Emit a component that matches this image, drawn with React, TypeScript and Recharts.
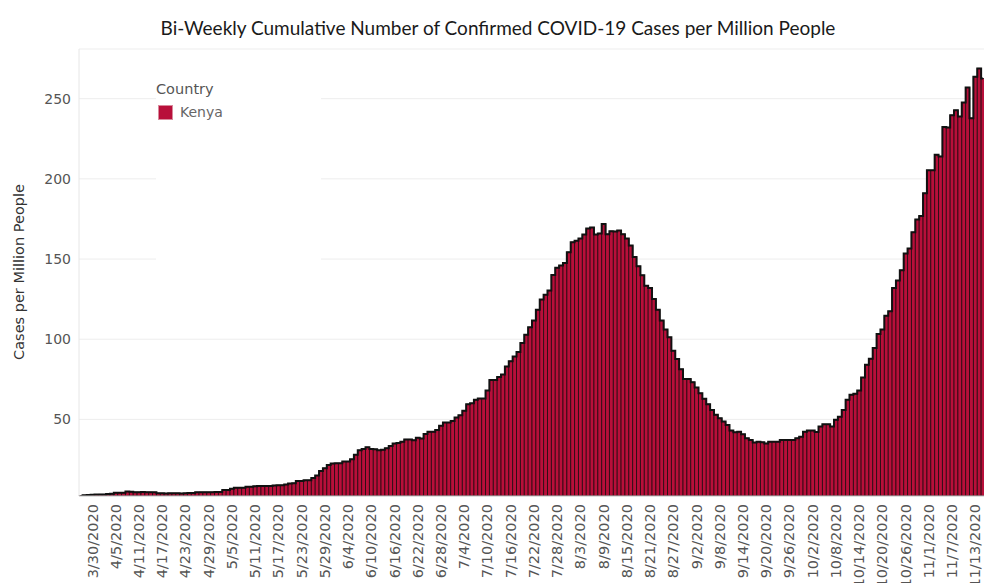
import {
  Bar,
  CartesianGrid,
  ComposedChart,
  Line,
  XAxis,
  YAxis,
} from "recharts";

// daily values, starting 3/27/2020
const casesPerMillion = [
  2.4, 2.6, 2.8, 3.0, 3.1, 3.2, 3.2, 3.4, 3.6, 4.2,
  4.2, 4.2, 5.0, 4.8, 4.6, 4.6, 4.7, 4.6, 4.6, 4.5,
  3.9, 3.9, 3.8, 3.9, 3.9, 3.9, 3.8, 3.9, 4.0, 4.0,
  4.5, 4.6, 4.6, 4.6, 4.6, 4.7, 4.7, 6.0, 6.0, 6.8,
  7.4, 7.4, 7.4, 7.9, 8.0, 8.3, 8.4, 8.4, 8.4, 8.5,
  8.8, 8.9, 8.9, 9.4, 10.0, 10.2,
  11.6, 11.6, 12.0, 12.0, 13.5, 15.0, 17.8, 19.5, 21.6, 22.4,
  22.6, 22.6, 23.7, 23.7, 25.1, 28.0, 30.7, 31.5, 32.6, 31.5,
  31.3, 30.7, 31.0, 32.0, 33.4, 34.9, 35.2, 36.0, 37.5, 37.5,
  37.0, 38.5, 38.0, 40.8, 42.2, 42.2, 43.4, 46.0, 48.0, 48.0,
  49.0, 51.1, 52.5, 55.3, 59.4, 60.0, 62.2, 63.0, 63.0, 68.0,
  74.5, 74.5, 76.4, 78.0, 83.0, 86.3, 89.2, 92.0, 97.6, 102.8,
  107.4, 111.6, 118.4, 124.7, 127.8, 130.3, 140.1, 144.5, 146.0, 147.6,
  154.3, 160.5, 161.4, 162.8, 165.3, 169.0, 169.7, 165.3, 166.0, 171.8,
  165.5, 167.4, 167.2, 167.8, 165.5, 162.8, 158.4, 151.3, 145.5,
  139.9, 133.4, 132.0, 125.1, 118.4, 111.6, 106.0, 101.2, 92.8, 87.6,
  81.3, 75.1, 75.1, 73.2, 69.9, 66.3, 62.8, 59.5, 55.9, 52.8,
  50.7, 48.6, 46.5, 43.0, 41.9, 42.3, 40.7, 38.2, 37.1, 35.5,
  36.1, 35.7, 35.0, 36.1, 36.1, 36.1, 37.1, 37.1, 37.1, 37.1,
  38.2, 39.2, 42.3, 43.0, 43.0, 42.1, 45.5, 46.9, 46.9, 45.5,
  49.7, 51.7, 55.9, 62.2, 65.3, 65.9, 68.0, 76.1, 84.0, 87.8,
  94.5, 103.2, 106.0, 114.7, 117.4, 132.0, 136.6, 143.0, 153.4, 156.6,
  166.7, 174.7, 176.8, 191.0, 205.3, 205.3, 215.0, 214.0, 232.4, 232.0,
  239.7, 242.8, 238.9, 247.6, 257.0, 237.8, 263.7, 268.9, 262.6,
];

const tickDates = [
  "3/30/2020", "4/5/2020", "4/11/2020", "4/17/2020", "4/23/2020",
  "4/29/2020", "5/5/2020", "5/11/2020", "5/17/2020", "5/23/2020",
  "5/29/2020", "6/4/2020", "6/10/2020", "6/16/2020", "6/22/2020",
  "6/28/2020", "7/4/2020", "7/10/2020", "7/16/2020", "7/22/2020",
  "7/28/2020", "8/3/2020", "8/9/2020", "8/15/2020", "8/21/2020",
  "8/27/2020", "9/2/2020", "9/8/2020", "9/14/2020", "9/20/2020",
  "9/26/2020", "10/2/2020", "10/8/2020", "10/14/2020", "10/20/2020",
  "10/26/2020", "11/1/2020", "11/7/2020", "11/13/2020",
];

const yTicks = [50, 100, 150, 200, 250];

const data = casesPerMillion.map((value, i) => {
  const d = new Date(Date.UTC(2020, 2, 27 + i));
  return {
    date: `${d.getUTCMonth() + 1}/${d.getUTCDate()}/${d.getUTCFullYear()}`,
    value,
  };
});

const FONT = "'DejaVu Sans', sans-serif";
const BAR_COLOR = "#b80f3a";

function DateTick({ x, y, payload }: any) {
  return (
    <text
      x={x}
      y={y}
      transform={`rotate(-90, ${x}, ${y})`}
      textAnchor="end"
      dominantBaseline="central"
      fill="#555"
      fontSize={14.5}
      fontFamily={FONT}
    >
      {payload.value}
    </text>
  );
}

export default function App() {
  return (
    <div
      style={{
        position: "absolute",
        left: 0,
        top: 0,
        width: 984,
        height: 583,
        overflow: "hidden",
        background: "#fff",
      }}
    >
      <ComposedChart
        width={990}
        height={583}
        data={data}
        barCategoryGap={0}
        margin={{ top: 49, right: 5, bottom: 0, left: 0 }}
      >
        <CartesianGrid
          vertical={false}
          stroke="#ededed"
        />
        <XAxis
          dataKey="date"
          ticks={tickDates}
          interval={0}
          height={87}
          tickLine={false}
          axisLine={{ stroke: "#c8c8c8" }}
          tick={<DateTick />}
        />
        <YAxis
          width={79}
          domain={[2.2, 281]}
          allowDataOverflow
          ticks={yTicks}
          tickLine={false}
          axisLine={{ stroke: "#e6e6e6" }}
          tick={{ fill: "#555", fontSize: 14, fontFamily: FONT }}
        />
        <Bar
          dataKey="value"
          fill={BAR_COLOR}
          stroke="#1a0a0e"
          strokeWidth={0.8}
          isAnimationActive={false}
        />
        <Line
          dataKey="value"
          type="step"
          stroke="#111"
          strokeWidth={2}
          dot={false}
          activeDot={false}
          isAnimationActive={false}
        />
      </ComposedChart>

      <div
        style={{
          position: "absolute",
          left: 498,
          top: 27,
          transform: "translate(-50%, -50%)",
          whiteSpace: "nowrap",
          fontFamily: "Lato, sans-serif",
          fontSize: 19,
          color: "#1a1a1a",
        }}
      >
        Bi-Weekly Cumulative Number of Confirmed COVID-19 Cases per Million People
      </div>

      <div
        style={{
          position: "absolute",
          left: 19,
          top: 272,
          transform: "translate(-50%, -50%) rotate(-90deg)",
          whiteSpace: "nowrap",
          fontFamily: FONT,
          fontSize: 14.5,
          color: "#333",
        }}
      >
        Cases per Million People
      </div>

      <div
        style={{
          position: "absolute",
          left: 156,
          top: 66,
          width: 165,
          height: 206,
          background: "#fff",
          fontFamily: FONT,
        }}
      >
        <div style={{ position: "absolute", left: 0, top: 15, fontSize: 14.5, color: "#555" }}>
          Country
        </div>
        <div
          style={{
            position: "absolute",
            left: 2,
            top: 39,
            width: 15,
            height: 15,
            background: BAR_COLOR,
            boxSizing: "border-box",
            border: "1px solid #d98a9c",
          }}
        />
        <div style={{ position: "absolute", left: 24, top: 38, fontSize: 14, color: "#666" }}>
          Kenya
        </div>
      </div>
    </div>
  );
}
